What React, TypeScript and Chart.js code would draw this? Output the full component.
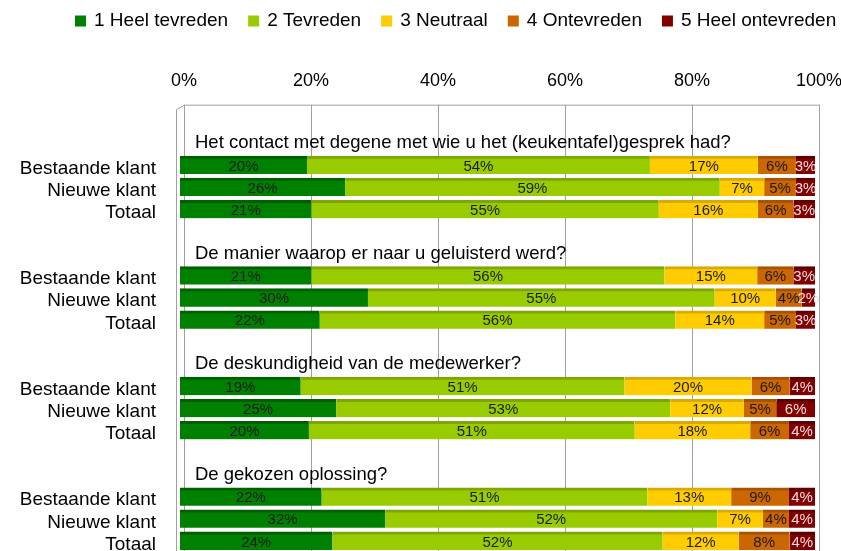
import React, { useEffect, useRef } from "react";
import { Chart, registerables } from "chart.js";

Chart.register(...registerables);

const questions = [
  "Het contact met degene met wie u het (keukentafel)gesprek had?",
  "De manier waarop er naar u geluisterd werd?",
  "De deskundigheid van de medewerker?",
  "De gekozen oplossing?",
];
const groups = ["Bestaande klant", "Nieuwe klant", "Totaal"];
const seriesLabels = ["1 Heel tevreden", "2 Tevreden", "3 Neutraal", "4 Ontevreden", "5 Heel ontevreden"];

// per question: Bestaande klant, Nieuwe klant, Totaal
const heelTevreden = [20, 26, 20.7, 20.7, 29.6, 22, 19, 24.6, 20.3, 22.3, 32.3, 24];
const tevreden = [54, 59, 54.7, 55.6, 54.6, 56, 51, 52.6, 51.3, 51.3, 52.3, 52];
const neutraal = [17, 7, 15.6, 14.6, 9.6, 14, 20, 11.6, 18.2, 13.2, 7.2, 12];
const ontevreden = [6, 5, 5.6, 5.7, 4.1, 5, 6, 5.1, 6.1, 9.1, 4.1, 8];
const heelOntevreden = [3, 3, 3.4, 3.4, 2.1, 3, 4, 6.1, 4.1, 4.1, 4.1, 4];

const xTicks = [0, 20, 40, 60, 80, 100];

const colors = ["#008000", "#99cc00", "#ffcc00", "#cc6600", "#800000"];
const topColors = ["#006000", "#7fa600", "#d9ab00", "#a65200", "#5e0000"];
const labelColors = ["#1a1a1a", "#1a1a1a", "#1a1a1a", "#1a1a1a", "#f4dede"];

const FONT = "'Liberation Sans', Arial, sans-serif";
const BACK = 4; // offset of the back wall (gridlines) from the bars

export default function App() {
  const ref = useRef<HTMLCanvasElement | null>(null);

  useEffect(() => {
    if (!ref.current) return;
    const series = [heelTevreden, tevreden, neutraal, ontevreden, heelOntevreden];
    const labels: string[] = [];
    const rows: (number | null)[][] = series.map(() => []);
    questions.forEach((q, qi) => {
      labels.push("");
      labels.push("");
      rows.forEach((r) => { r.push(null); r.push(null); });
      groups.forEach((g, gi) => {
        labels.push(g);
        series.forEach((s, si) => rows[si].push(s[qi * 3 + gi]));
      });
    });

    const framePlugin = {
      id: "frame",
      beforeDatasetsDraw(chart: any) {
        const { ctx, chartArea } = chart;
        const xs = chart.scales.x;
        ctx.save();
        ctx.strokeStyle = "#a0a0a0";
        ctx.lineWidth = 1;
        const top = chartArea.top - 5;
        xTicks.forEach((v) => {
          const x = Math.round(xs.getPixelForValue(v)) + BACK + 0.5;
          ctx.beginPath();
          ctx.moveTo(x, top);
          ctx.lineTo(x, chartArea.bottom);
          ctx.stroke();
        });
        const x0 = Math.round(xs.getPixelForValue(0)) + BACK + 0.5;
        ctx.beginPath();
        ctx.moveTo(x0, top + 0.5);
        ctx.lineTo(Math.round(xs.getPixelForValue(100)) + BACK + 0.5, top + 0.5);
        ctx.stroke();
        ctx.beginPath();
        ctx.moveTo(x0, top + 0.5);
        ctx.lineTo(chartArea.left - 3.5, top + 5);
        ctx.lineTo(chartArea.left - 3.5, chartArea.bottom);
        ctx.stroke();
        ctx.restore();
      },
      afterDatasetsDraw(chart: any) {
        const { ctx, chartArea } = chart;
        const ys = chart.scales.y;
        ctx.save();
        // data labels
        ctx.font = `15px ${FONT}`;
        ctx.textAlign = "center";
        ctx.textBaseline = "middle";
        chart.data.datasets.forEach((ds: any, i: number) => {
          const meta = chart.getDatasetMeta(i);
          meta.data.forEach((bar: any, j: number) => {
            const v = ds.data[j];
            if (v == null) return;
            const p = bar.getProps(["x", "base", "y"], true);
            ctx.fillStyle = labelColors[i];
            ctx.fillText(Math.round(v) + "%", (p.x + p.base) / 2, p.y + 1.5);
          });
        });
        // question titles
        ctx.font = `18.5px ${FONT}`;
        ctx.textAlign = "left";
        ctx.fillStyle = "#000";
        questions.forEach((q, qi) => {
          const y = ys.getPixelForValue(qi * 5 + 1);
          ctx.fillText(q, chartArea.left + 15, y);
        });
        // legend
        ctx.font = `19px ${FONT}`;
        let x = 75;
        const ly = 21;
        chart.data.datasets.forEach((ds: any, i: number) => {
          ctx.fillStyle = colors[i];
          ctx.fillRect(x, ly - 5.5, 11, 11);
          ctx.fillStyle = "#000";
          ctx.fillText(ds.label, x + 19, ly);
          x += 19 + ctx.measureText(ds.label).width + 20;
        });
        ctx.restore();
      },
    };

    const chart = new Chart(ref.current, {
      type: "bar",
      data: {
        labels,
        datasets: seriesLabels.map((label, i) => ({
          label,
          data: rows[i],
          backgroundColor: colors[i],
          borderColor: topColors[i],
          borderWidth: { top: 3, left: 0, right: 0, bottom: 0 },
          borderSkipped: false,
          barThickness: 18,
        })),
      },
      options: {
        indexAxis: "y",
        responsive: false,
        animation: false,
        layout: { padding: { top: 52, right: 26, bottom: 8, left: 0 } },
        plugins: {
          legend: { display: false },
          tooltip: { enabled: false },
        },
        scales: {
          x: {
            position: "top",
            stacked: true,
            min: 0,
            max: 100,
            afterFit: (s: any) => {
              s.height = 57.7;
              s.paddingLeft = 0;
              s.paddingRight = 0;
              s.paddingTop = 0;
              s.paddingBottom = 0;
            },
            grid: { display: false, drawTicks: false },
            border: { display: false },
            ticks: {
              stepSize: 20,
              padding: 18,
              labelOffset: BACK,
              color: "#000",
              font: { family: FONT, size: 18 },
              callback: (v: any) => v + "%",
            },
          },
          y: {
            stacked: true,
            afterFit: (s: any) => {
              s.width = 180;
              s.paddingLeft = 0;
              s.paddingRight = 0;
              s.paddingTop = 0;
              s.paddingBottom = 0;
            },
            grid: { display: false, drawTicks: false },
            border: { display: false },
            ticks: {
              padding: 24,
              labelOffset: 3.5,
              autoSkip: false,
              color: "#000",
              font: { family: FONT, size: 19 },
            },
          },
        },
      } as any,
      plugins: [framePlugin],
    });
    return () => chart.destroy();
  }, []);

  return (
    <div style={{ position: "absolute", left: 0, top: 0, width: 841, height: 551, overflow: "hidden", background: "#fff" }}>
      <canvas ref={ref} width={841} height={560} style={{ display: "block" }} />
    </div>
  );
}
